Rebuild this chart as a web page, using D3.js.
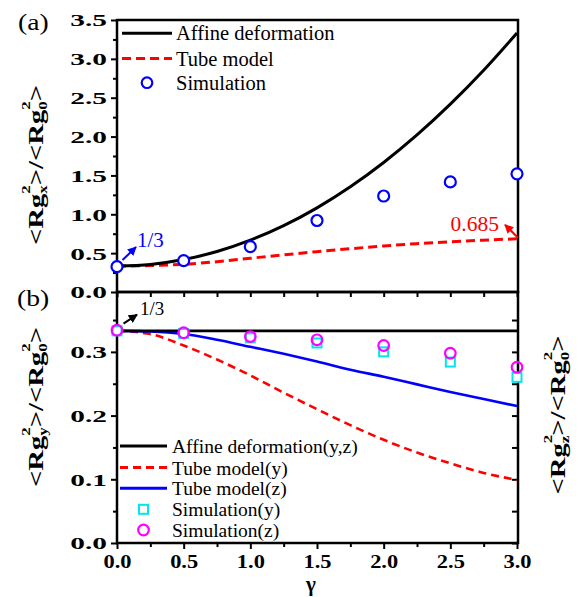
<!DOCTYPE html>
<html>
<head>
<meta charset="utf-8">
<script src="https://cdn.jsdelivr.net/npm/d3@7/dist/d3.min.js"></script>
<style>
  html, body { margin: 0; padding: 0; background: #fff; }
  svg { display: block; }
  text { font-family: "Liberation Serif", "Times New Roman", serif; }
</style>
</head>
<body>
<svg id="chart" width="578" height="597"></svg>
<script>
// ---------- data ----------
const gammaFine = [0, 0.25, 0.5, 0.75, 1.0, 1.25, 1.5, 1.75, 2.0, 2.25, 2.5, 2.75, 3.0];
const affineX   = [0.333, 0.354, 0.417, 0.521, 0.667, 0.854, 1.083, 1.354, 1.667, 2.021, 2.417, 2.854, 3.333];
const tubeX     = [0.333, 0.340, 0.356, 0.390, 0.434, 0.478, 0.519, 0.557, 0.592, 0.622, 0.647, 0.667, 0.685];
const gammaSim  = [0, 0.5, 1.0, 1.5, 2.0, 2.5, 3.0];
const simX      = [0.326, 0.403, 0.583, 0.920, 1.235, 1.416, 1.520];

const affineYZ  = [0.333, 0.333, 0.333, 0.333, 0.333, 0.333, 0.333, 0.333, 0.333, 0.333, 0.333, 0.333, 0.333];
const tubeY     = [0.333, 0.328, 0.310, 0.288, 0.263, 0.236, 0.210, 0.185, 0.162, 0.142, 0.125, 0.110, 0.099];
const tubeZ     = [0.333, 0.332, 0.328, 0.319, 0.308, 0.297, 0.285, 0.272, 0.261, 0.249, 0.237, 0.226, 0.215];
const simY      = [0.333, 0.329, 0.322, 0.314, 0.300, 0.284, 0.260];
const simZ      = [0.334, 0.330, 0.324, 0.319, 0.310, 0.298, 0.276];

const xTicks      = [0, 0.5, 1.0, 1.5, 2.0, 2.5, 3.0];
const xMinorTicks = [0.25, 0.75, 1.25, 1.75, 2.25, 2.75];
const yTopTicks   = [0, 0.5, 1.0, 1.5, 2.0, 2.5, 3.0, 3.5];
const yTopMinor   = [0.25, 0.75, 1.25, 1.75, 2.25, 2.75, 3.25];
const yBotTicks   = [0, 0.1, 0.2, 0.3];
const yBotMinor   = [0.05, 0.15, 0.25, 0.35];
const yRightTicks = [0, 0.05, 0.1, 0.15, 0.2, 0.25, 0.3, 0.35];

const legendTop = ["Affine deformation", "Tube model", "Simulation"];
const legendBot = ["Affine deformation(y,z)", "Tube model(y)", "Tube model(z)", "Simulation(y)", "Simulation(z)"];

// ---------- layout ----------
const svg = d3.select("#chart");
const L = 117, R = 517, T = 20, M = 292, B = 543;

const x = d3.scaleLinear().domain([0, 3]).range([L, R]);
const yTop = d3.scaleLinear().domain([0, 3.5]).range([M, T]);
const yBot = d3.scaleLinear().domain([0, 0.394]).range([B, M]);

const RED = "#ff0000", BLUE = "#0000ff", CYAN = "#00e5ee", MAG = "#ff00ff";

// ---------- defs (arrowheads) ----------
const defs = svg.append("defs");
function arrowMarker(id, color) {
  defs.append("marker").attr("id", id)
    .attr("viewBox", "0 0 10 10").attr("refX", 9).attr("refY", 5)
    .attr("markerWidth", 4.5).attr("markerHeight", 4.5)
    .attr("orient", "auto")
    .append("path").attr("d", "M0,0 L10,5 L0,10 z").attr("fill", color);
}
arrowMarker("arB", BLUE); arrowMarker("arK", "#000"); arrowMarker("arR", RED);

// ---------- axes ----------
function styleAxis(g) {
  g.select(".domain").remove();
  g.selectAll(".tick line").attr("stroke", "#000").attr("stroke-width", 2);
}
function stretchLeftLabels(g, sx, size) {
  g.selectAll(".tick text")
    .attr("font-family", "'Liberation Serif', serif")
    .attr("font-weight", "bold").attr("font-size", size).attr("fill", "#000")
    .attr("x", -10 / sx).attr("dy", "0.34em")
    .attr("transform", `scale(${sx},1)`);
}

// top panel left
svg.append("g").attr("transform", `translate(${L},0)`)
  .call(d3.axisLeft(yTop).tickValues(yTopTicks).tickSize(6).tickSizeOuter(0).tickFormat(d3.format(".1f")))
  .call(styleAxis).call(g => stretchLeftLabels(g, 1.68, 17.5));
svg.append("g").attr("transform", `translate(${L},0)`)
  .call(d3.axisLeft(yTop).tickValues(yTopMinor).tickSize(4).tickSizeOuter(0).tickFormat(""))
  .call(styleAxis);
// top panel bottom ticks (no labels)
svg.append("g").attr("transform", `translate(0,${M})`)
  .call(d3.axisBottom(x).tickValues(xTicks.concat(xMinorTicks)).tickSize(5).tickSizeOuter(0).tickFormat(""))
  .call(styleAxis);

// bottom panel left
svg.append("g").attr("transform", `translate(${L},0)`)
  .call(d3.axisLeft(yBot).tickValues(yBotTicks).tickSize(6).tickSizeOuter(0).tickFormat(d3.format(".1f")))
  .call(styleAxis).call(g => stretchLeftLabels(g, 1.68, 17.5));
svg.append("g").attr("transform", `translate(${L},0)`)
  .call(d3.axisLeft(yBot).tickValues(yBotMinor).tickSize(4).tickSizeOuter(0).tickFormat(""))
  .call(styleAxis);
// bottom panel right (inward ticks, no labels)
svg.append("g").attr("transform", `translate(${R},0)`)
  .call(d3.axisLeft(yBot).tickValues(yRightTicks).tickSize(5).tickSizeOuter(0).tickFormat(""))
  .call(styleAxis);
// bottom x axis
const gx = svg.append("g").attr("transform", `translate(0,${B})`)
  .call(d3.axisBottom(x).tickValues(xTicks).tickSize(6).tickSizeOuter(0).tickFormat(d3.format(".1f")))
  .call(styleAxis);
gx.selectAll(".tick text")
  .attr("font-family", "'Liberation Serif', serif")
  .attr("font-weight", "bold").attr("font-size", 19.5).attr("fill", "#000")
  .attr("y", 25).attr("dy", 0)
  .attr("transform", "scale(1.15,1)");
svg.append("g").attr("transform", `translate(0,${B})`)
  .call(d3.axisBottom(x).tickValues(xMinorTicks).tickSize(4).tickSizeOuter(0).tickFormat(""))
  .call(styleAxis);

// ---------- frames ----------
svg.append("rect").attr("x", L).attr("y", T).attr("width", R - L + 1).attr("height", M - T)
  .attr("fill", "none").attr("stroke", "#000").attr("stroke-width", 2.5);
svg.append("rect").attr("x", L).attr("y", M).attr("width", R - L + 1).attr("height", B - M)
  .attr("fill", "none").attr("stroke", "#000").attr("stroke-width", 2.5);

// ---------- lines ----------
function drawLine(ys, yScale, color, width, dash) {
  const line = d3.line().x((d, i) => x(gammaFine[i])).y(d => yScale(d)).curve(d3.curveMonotoneX);
  const p = svg.append("path").datum(ys).attr("d", line)
    .attr("fill", "none").attr("stroke", color).attr("stroke-width", width)
    .attr("stroke-linecap", "butt");
  if (dash) p.attr("stroke-dasharray", dash);
  return p;
}
// top panel
drawLine(tubeX, yTop, RED, 3, "9,5");
drawLine(affineX, yTop, "#000", 3);
// bottom panel
drawLine(tubeY, yBot, RED, 2.6, "8,5");
drawLine(tubeZ, yBot, BLUE, 2.6);
drawLine(affineYZ, yBot, "#000", 2.6);

// ---------- markers ----------
svg.append("g").selectAll("circle").data(simX).join("circle")
  .attr("cx", (d, i) => x(gammaSim[i])).attr("cy", d => yTop(d)).attr("r", 5.5)
  .attr("fill", "#fff").attr("stroke", BLUE).attr("stroke-width", 2.2);
svg.append("g").selectAll("rect").data(simY).join("rect")
  .attr("x", (d, i) => x(gammaSim[i]) - 4.5).attr("y", d => yBot(d) - 4.5)
  .attr("width", 9).attr("height", 9)
  .attr("fill", "#fff").attr("stroke", CYAN).attr("stroke-width", 2);
svg.append("g").selectAll("circle").data(simZ).join("circle")
  .attr("cx", (d, i) => x(gammaSim[i])).attr("cy", d => yBot(d)).attr("r", 5.3)
  .attr("fill", "#fff").attr("fill-opacity", 0).attr("stroke", MAG).attr("stroke-width", 2.2);

// ---------- legends ----------
function legendRow(y0, xs, xe, label, kind, color, dash, textX, size) {
  if (kind === "line") {
    const l = svg.append("line").attr("x1", xs).attr("x2", xe).attr("y1", y0).attr("y2", y0)
      .attr("stroke", color).attr("stroke-width", 3);
    if (dash) l.attr("stroke-dasharray", dash);
  } else if (kind === "circle") {
    svg.append("circle").attr("cx", (xs + xe) / 2).attr("cy", y0).attr("r", 5.3)
      .attr("fill", "none").attr("stroke", color).attr("stroke-width", 2.2);
  } else if (kind === "square") {
    svg.append("rect").attr("x", (xs + xe) / 2 - 4.5).attr("y", y0 - 4.5).attr("width", 9).attr("height", 9)
      .attr("fill", "none").attr("stroke", color).attr("stroke-width", 2);
  }
  svg.append("text").attr("x", textX).attr("y", y0 + 7).attr("font-size", size).attr("fill", "#000").text(label);
}
legendRow(33.3, 122, 172, legendTop[0], "line", "#000", null, 176, 20.5);
legendRow(58.5, 122, 172, legendTop[1], "line", RED, "9,5", 176, 20.5);
legendRow(82.7, 122, 172, legendTop[2], "circle", BLUE, null, 176, 20.5);

legendRow(446, 120, 167, legendBot[0], "line", "#000", null, 172, 19.5);
legendRow(467.5, 120, 167, legendBot[1], "line", RED, "8,5", 172, 19.5);
legendRow(488.3, 120, 167, legendBot[2], "line", BLUE, null, 172, 19.5);
legendRow(509.3, 120, 167, legendBot[3], "square", CYAN, null, 172, 19.5);
legendRow(530, 120, 167, legendBot[4], "circle", MAG, null, 172, 19.5);

// ---------- annotations ----------
svg.append("line")
  .attr("x1", x(0) + 5.5).attr("y1", yTop(1/3) - 6)
  .attr("x2", x(0) + 19).attr("y2", yTop(1/3) - 19)
  .attr("stroke", BLUE).attr("stroke-width", 2).attr("marker-end", "url(#arB)");
svg.append("text").attr("x", 137).attr("y", 247).attr("font-size", 21).attr("fill", BLUE).text("1/3");

svg.append("line")
  .attr("x1", x(0) + 6.5).attr("y1", yBot(1/3) - 7)
  .attr("x2", x(0) + 20).attr("y2", yBot(1/3) - 16)
  .attr("stroke", "#000").attr("stroke-width", 2).attr("marker-end", "url(#arK)");
svg.append("text").attr("x", 140).attr("y", 315).attr("font-size", 19).attr("fill", "#000").text("1/3");

svg.append("line")
  .attr("x1", x(3) + 1).attr("y1", yTop(0.685) - 1)
  .attr("x2", x(3) - 12).attr("y2", yTop(0.685) - 14)
  .attr("stroke", RED).attr("stroke-width", 2).attr("marker-end", "url(#arR)");
svg.append("text").attr("x", 450.5).attr("y", 230.5).attr("font-size", 21.5).attr("fill", RED).text("0.685");

// ---------- panel labels ----------
svg.append("text").attr("transform", "translate(18,30) scale(1.2,1)").attr("font-size", 23).text("(a)");
svg.append("text").attr("transform", "translate(17,306) scale(1.2,1)").attr("font-size", 23).text("(b)");

// ---------- axis titles ----------
function ratioTitle(cx, cy, sub) {
  const t = svg.append("text")
    .attr("transform", `translate(${cx},${cy}) rotate(-90) scale(1.3,1)`)
    .attr("text-anchor", "middle").attr("font-weight", "bold").attr("font-size", 22).attr("fill", "#000");
  t.append("tspan").text("<Rg");
  t.append("tspan").attr("font-size", 13).attr("dy", -13).text("2");
  t.append("tspan").attr("font-size", 13).attr("dx", -6.5).attr("dy", 17).text(sub);
  t.append("tspan").attr("dy", -4).text(">/<Rg");
  t.append("tspan").attr("font-size", 13).attr("dy", -13).text("2");
  t.append("tspan").attr("font-size", 13).attr("dx", -6.5).attr("dy", 17).text("0");
  t.append("tspan").attr("dy", -4).text(">");
}
ratioTitle(43, 165, "x");
ratioTitle(43, 407, "y");
ratioTitle(565, 415, "z");

svg.append("text").attr("x", x(1.5) - 6).attr("y", 591).attr("text-anchor", "middle")
  .attr("font-weight", "bold").attr("font-size", 21).text("γ");
</script>
</body>
</html>
